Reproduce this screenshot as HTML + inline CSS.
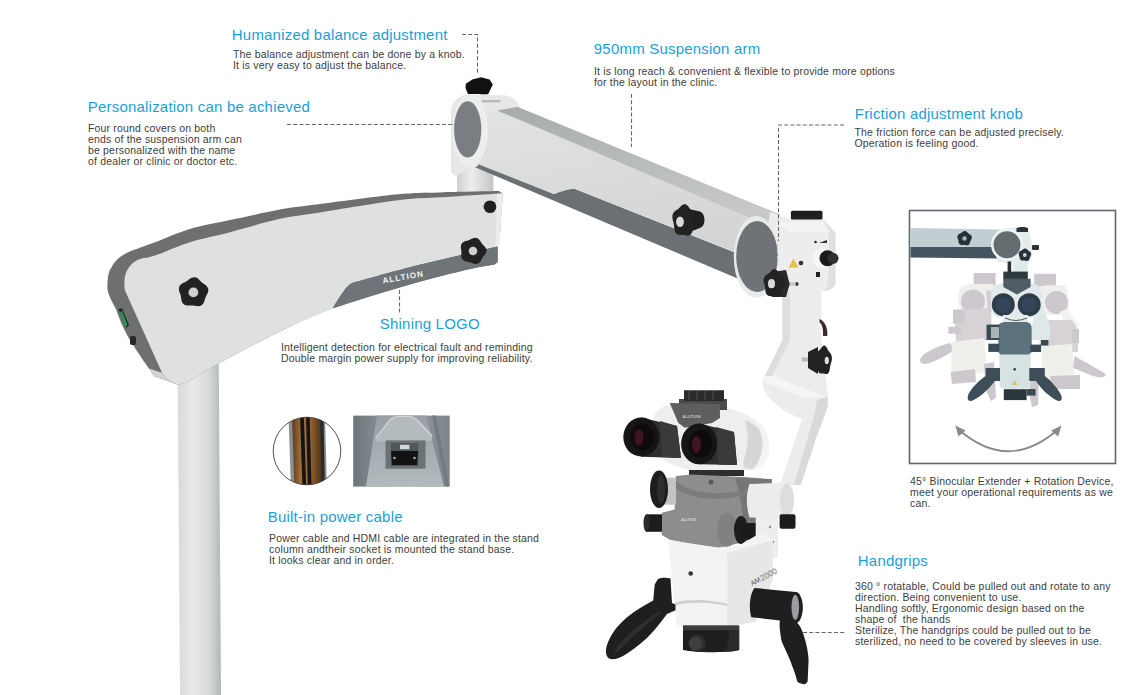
<!DOCTYPE html>
<html><head><meta charset="utf-8">
<style>
html,body{margin:0;padding:0;background:#fff;}
body{width:1131px;height:695px;position:relative;overflow:hidden;font-family:"Liberation Sans",sans-serif;}
.t{position:absolute;white-space:nowrap;font-size:15px;line-height:15px;color:#1a9fdb;letter-spacing:0.2px;margin-top:-0.7px;margin-left:-1.2px;}
.b{position:absolute;white-space:pre;font-size:10.5px;line-height:11px;color:#404040;letter-spacing:0.17px;}
svg{position:absolute;left:0;top:0;}
</style></head><body>
<svg width="1131" height="695" viewBox="0 0 1131 695">
<defs>
<linearGradient id="colG" x1="0" x2="1" y1="0" y2="0">
<stop offset="0" stop-color="#d8dad7"/><stop offset="0.35" stop-color="#e8eae7"/><stop offset="0.7" stop-color="#d9dcda"/><stop offset="1" stop-color="#b3b7b7"/>
</linearGradient>
<linearGradient id="postG" x1="0" x2="1" y1="0" y2="0">
<stop offset="0" stop-color="#cfd1d1"/><stop offset="0.4" stop-color="#eceeed"/><stop offset="1" stop-color="#c4c6c6"/>
</linearGradient>
</defs>
<!-- stand column -->
<path d="M177.5,350 L218.7,350 L221,695 L180,695 Z" fill="url(#colG)"/>
<!-- post between arms -->
<rect x="457" y="160" width="36.4" height="33" fill="url(#postG)"/>
<!-- lower arm outer gray -->
<path d="M107.5,290.0 C107.5,288.9 107.3,285.9 107.5,283.2 C107.7,280.5 107.8,276.7 108.6,273.8 C109.4,270.9 110.6,268.4 112.2,265.9 C113.8,263.4 115.6,260.8 118.0,258.7 C120.4,256.6 122.8,254.9 126.6,253.0 C130.4,251.1 136.3,249.0 141.0,247.2 C145.7,245.4 146.8,245.2 155.0,242.2 C163.2,239.2 177.5,232.7 190.0,229.0 C202.5,225.3 215.0,223.3 230.0,220.1 C245.0,216.9 265.0,212.3 280.0,209.6 C295.0,206.9 300.0,206.7 320.0,204.1 C340.0,201.5 380.0,196.0 400.0,194.1 C420.0,192.2 423.5,192.9 440.0,192.4 C456.5,191.9 489.0,191.3 498.8,191.1 L502.8,193.4 L499.9,235 L497.6,246.5 L497.6,262 L494.7,264.4 C490.6,265.2 484.1,265.7 470.0,269.0 C455.9,272.3 432.9,277.9 410.0,284.4 C387.1,290.9 354.6,300.4 332.9,308.2 C311.2,316.0 298.8,322.3 280.0,331.4 C261.2,340.5 235.0,354.5 220.0,362.7 C205.0,370.9 196.9,376.9 190.0,380.6 C183.1,384.3 180.3,384.2 178.4,384.9 L171.4,382.3 L154.2,376.3 L149,368.5 C140,356 135,348 130,340 C124,330 119,318 116,309 C112,302 109,296 107.5,290 Z" fill="#6d6f71"/>
<path d="M149,368.5 L162,372.8 L168.9,380.6 L178.4,384.9 L171.4,382.3 L154.2,376.3 Z" fill="#d2d4d3"/>
<!-- white face -->
<path d="M124.8,290.0 C124.7,288.9 124.4,285.5 124.4,283.2 C124.5,280.9 124.5,278.4 125.1,276.0 C125.7,273.6 126.5,271.1 128.0,268.8 C129.4,266.5 131.6,264.0 133.8,262.3 C136.0,260.6 137.5,259.8 141.0,258.7 C144.5,257.6 146.8,258.2 155.0,255.5 C163.2,252.8 177.5,246.1 190.0,242.2 C202.5,238.3 215.0,236.1 230.0,232.2 C245.0,228.3 265.0,222.1 280.0,218.8 C295.0,215.5 300.0,215.5 320.0,212.4 C340.0,209.3 380.0,202.6 400.0,200.1 C420.0,197.6 423.5,198.4 440.0,197.3 C456.5,196.2 489.0,194.1 498.8,193.4 L502.8,193.4 L499.9,235 L498.8,245.9 C473.3,252.4 431.9,261.7 410.0,267.2 C388.1,272.7 363.8,279.8 354.5,282.3 C349,283.5 345,288 332.9,308.2 C324.1,312.1 298.8,322.3 280.0,331.4 C261.2,340.5 235.0,354.5 220.0,362.7 C205.0,370.9 196.9,376.9 190.0,380.6 C183.1,384.3 180.3,384.2 178.4,384.9 L168.9,380.6 L162,372.8 Z" fill="#dfe1e0"/>
<!-- lower gray band -->
<path d="M497.6,246.5 C473.3,252.4 431.9,261.7 410.0,267.2 C388.1,272.7 363.8,279.8 354.5,282.3 C349,283.5 345,288 332.9,308.2 C345.8,304.2 387.1,290.9 410.0,284.4 C432.9,277.9 455.9,272.3 470.0,269.0 C484.1,265.7 490.6,265.2 494.7,264.4 L497.6,262 Z" fill="#6f7479"/>
<text x="0" y="0" font-family="Liberation Sans" font-weight="bold" font-size="8.2" fill="#f4f4f4" transform="translate(383,283.5) rotate(-10)" letter-spacing="1">ALLTION</text>
<path d="M497,194 L502.8,193.4 L499.9,235 L498.8,245.9 L495,246.5 L496,235 Z" fill="#eceeed"/>
<!-- side switch -->
<path d="M118.5,309 L122,308.5 L129,325 L126.5,328 Z" fill="#222"/><path d="M120,312 L122,311 L127.5,325 L125.5,326.5 Z" fill="#22a050"/>
<rect x="130" y="336" width="6" height="9" rx="2" fill="#2a2a2a"/>
<!-- upper beam -->
<defs>
<linearGradient id="topF" x1="0" y1="0" x2="0.15" y2="1"><stop offset="0" stop-color="#a4a7a8"/><stop offset="1" stop-color="#c8caca"/></linearGradient>
<linearGradient id="frF" x1="0" y1="0" x2="0.3" y2="1"><stop offset="0" stop-color="#e3e5e4"/><stop offset="1" stop-color="#d3d5d4"/></linearGradient>
</defs>
<path d="M475,160 L553.7,194.1 C562,191 567,189 574.5,188.7 L760,262.5 L760,288 L475,167.3 Z" fill="#6c7074"/>
<path d="M480,91.5 L780,214.5 L780,270 L574.5,188.7 C567,189 562,191 553.7,194.1 L475,163 Z" fill="url(#frF)"/>
<path d="M480,91.5 L780,214.5 L780,230.5 L500,111.7 L485,104 Z" fill="url(#topF)"/>
<!-- left joint housing -->
<path d="M466,94.5 L506.5,95.5 C512,96.5 517.3,100.8 520.1,106.5 L488,112 L478,166 L455,175.7 L451,172.7 L451,110 C452,102 458,96 466,94.5 Z" fill="#e6e7e6"/>
<rect x="481.7" y="100" width="18.7" height="2.4" fill="#b8baba"/>
<ellipse cx="470.2" cy="130.4" rx="17.7" ry="36.8" fill="#eceeed"/>
<ellipse cx="467.7" cy="129.4" rx="13.6" ry="28.2" fill="#7a7e82"/>
<!-- top knob -->
<path d="M465.9,83.7 L472.3,79.4 L481,77.2 L489.6,79.4 L492.8,84.4 L488.2,94 L468,94 L465.5,88 Z" fill="#111"/>
<!-- right joint housing -->
<path d="M770,212.2 C778,214 785,218.7 790.9,218.7 L823.2,218.7 L835.5,233.1 L835.5,283.5 C834,289 829,291 824,290.7 L786,293 L760,280 Z" fill="#ededed"/>
<path d="M823.2,218.7 L835.5,233.1 L835.5,283.5 C834,289 829,291 824,290.7 L827,286 C830,270 830,240 827,226 Z" fill="#dfe0e0"/>
<path d="M776,222 L823,222 L830,232 L790,232 Z" fill="#f3f3f3"/>
<rect x="790.9" y="210.8" width="31.6" height="8.6" rx="1.5" fill="#1e1e1e"/>
<ellipse cx="756.4" cy="257" rx="22.6" ry="41" fill="#e9ebea"/>
<ellipse cx="757" cy="256.5" rx="20.8" ry="35.5" fill="#6f7377"/>
<!-- side knob on right housing -->
<ellipse cx="822" cy="258.3" rx="9" ry="10" fill="#f6f6f6"/>
<circle cx="827.5" cy="258.3" r="8" fill="#1a1a1a"/>
<circle cx="833" cy="258.3" r="5.5" fill="#303030"/>
<circle cx="815.5" cy="242" r="1.3" fill="#222"/>
<path d="M819,243 L827,240 L827,243 Z" fill="#333"/>
<rect x="816" y="272" width="4" height="5" fill="#222"/>
<!-- warning -->
<path d="M788.5,267.5 L793.5,258.5 L798.5,267.5 Z" fill="#e6c04a"/>
<circle cx="801" cy="263" r="2.3" fill="#333"/>
<path d="M207.9,292.4 L207.5,293.4 L207.0,294.3 L206.6,295.2 L206.1,296.0 L205.7,296.9 L205.4,297.7 L205.1,298.6 L204.8,299.5 L204.5,300.5 L204.2,301.5 L203.8,302.5 L203.3,303.4 L202.7,304.3 L201.9,305.0 L201.0,305.6 L200.0,305.9 L199.0,306.1 L197.9,306.2 L196.8,306.1 L195.8,306.0 L194.8,305.8 L193.9,305.6 L192.9,305.5 L192.0,305.4 L191.1,305.4 L190.1,305.5 L189.1,305.5 L188.1,305.5 L187.0,305.4 L186.0,305.2 L185.0,304.9 L184.1,304.4 L183.2,303.7 L182.6,302.9 L182.0,301.9 L181.7,300.9 L181.4,299.9 L181.2,298.9 L181.1,297.9 L181.0,296.9 L180.8,296.0 L180.6,295.1 L180.3,294.2 L180.0,293.3 L179.6,292.4 L179.3,291.4 L179.0,290.4 L178.9,289.3 L178.9,288.3 L179.1,287.2 L179.5,286.2 L180.1,285.3 L180.8,284.5 L181.7,283.9 L182.6,283.3 L183.5,282.8 L184.4,282.4 L185.3,282.0 L186.1,281.5 L186.9,281.1 L187.6,280.5 L188.4,279.9 L189.1,279.3 L190.0,278.7 L190.9,278.1 L191.9,277.7 L192.9,277.4 L193.9,277.2 L195.0,277.3 L196.0,277.6 L197.0,278.0 L197.9,278.6 L198.7,279.3 L199.4,280.0 L200.1,280.7 L200.8,281.4 L201.5,282.1 L202.2,282.7 L202.9,283.2 L203.7,283.8 L204.5,284.3 L205.4,284.9 L206.2,285.6 L206.9,286.4 L207.5,287.3 L208.0,288.2 L208.3,289.2 L208.3,290.3 L208.2,291.4Z" fill="#222"/><ellipse cx="193.4" cy="292.4" rx="4.9" ry="4.9" fill="#cfd1d0"/><path d="M486.5,251.0 L486.3,251.9 L486.0,252.8 L485.6,253.7 L485.0,254.5 L484.5,255.2 L483.9,255.8 L483.4,256.5 L482.9,257.2 L482.4,257.8 L482.0,258.6 L481.6,259.3 L481.2,260.1 L480.8,260.9 L480.2,261.7 L479.6,262.4 L478.9,263.0 L478.1,263.5 L477.2,263.8 L476.2,264.0 L475.3,263.9 L474.3,263.8 L473.4,263.5 L472.6,263.2 L471.8,262.9 L471.0,262.5 L470.2,262.3 L469.4,262.1 L468.6,261.9 L467.7,261.8 L466.9,261.6 L466.0,261.4 L465.0,261.2 L464.2,260.8 L463.4,260.3 L462.7,259.7 L462.1,258.9 L461.7,258.1 L461.4,257.2 L461.3,256.2 L461.2,255.3 L461.3,254.4 L461.3,253.5 L461.4,252.6 L461.4,251.8 L461.4,251.0 L461.3,250.2 L461.1,249.3 L461.0,248.4 L460.9,247.5 L460.9,246.6 L460.9,245.6 L461.2,244.7 L461.6,243.9 L462.1,243.1 L462.8,242.4 L463.6,241.9 L464.4,241.5 L465.3,241.1 L466.2,240.9 L467.0,240.7 L467.9,240.5 L468.6,240.2 L469.4,239.9 L470.2,239.6 L470.9,239.2 L471.7,238.8 L472.6,238.4 L473.5,238.1 L474.4,237.9 L475.3,237.8 L476.3,237.9 L477.2,238.2 L478.0,238.6 L478.8,239.2 L479.4,239.9 L480.0,240.6 L480.5,241.4 L481.0,242.1 L481.4,242.9 L481.9,243.5 L482.4,244.2 L483.0,244.8 L483.6,245.4 L484.2,246.0 L484.8,246.7 L485.4,247.4 L485.9,248.3 L486.3,249.1 L486.5,250.1Z" fill="#222"/><ellipse cx="473.0" cy="251.0" rx="4.3" ry="4.3" fill="#cfd1d0"/><rect x="482" y="205" width="5" height="3.5" fill="#c8c8c8"/><circle cx="490" cy="206.7" r="6.3" fill="#1f1f1f"/><path d="M684,208 L700,211.5 C706,214 706,226 700,228 L684,234 Z" fill="#1f1f1f"/><path d="M695.7,220.7 L695.3,221.8 L695.0,222.8 L694.6,223.7 L694.2,224.7 L693.9,225.6 L693.6,226.5 L693.4,227.4 L693.2,228.4 L693.0,229.5 L692.7,230.6 L692.4,231.6 L692.0,232.7 L691.4,233.6 L690.8,234.4 L690.1,235.0 L689.3,235.4 L688.5,235.6 L687.6,235.7 L686.7,235.6 L685.9,235.4 L685.1,235.2 L684.4,235.0 L683.6,234.9 L682.9,234.8 L682.2,234.8 L681.4,234.9 L680.6,234.9 L679.7,234.9 L678.9,234.8 L678.0,234.6 L677.2,234.2 L676.5,233.7 L675.8,232.9 L675.3,232.1 L674.9,231.0 L674.6,230.0 L674.4,228.8 L674.2,227.7 L674.1,226.6 L674.0,225.6 L673.9,224.6 L673.7,223.7 L673.5,222.7 L673.2,221.7 L672.9,220.7 L672.7,219.6 L672.5,218.5 L672.4,217.4 L672.4,216.2 L672.5,215.1 L672.9,214.0 L673.3,213.0 L673.9,212.2 L674.6,211.4 L675.3,210.8 L676.0,210.3 L676.8,209.8 L677.5,209.4 L678.1,208.9 L678.7,208.4 L679.3,207.8 L680.0,207.2 L680.6,206.5 L681.3,205.8 L682.0,205.2 L682.8,204.7 L683.6,204.4 L684.4,204.2 L685.3,204.3 L686.1,204.6 L686.9,205.1 L687.6,205.7 L688.3,206.5 L688.9,207.3 L689.4,208.0 L689.9,208.8 L690.5,209.5 L691.0,210.1 L691.6,210.7 L692.3,211.3 L693.0,211.9 L693.6,212.6 L694.3,213.3 L694.9,214.2 L695.4,215.1 L695.7,216.2 L695.9,217.3 L696.0,218.4 L695.9,219.6Z" fill="#222"/><ellipse cx="680.0" cy="221.7" rx="3.9" ry="5.3" fill="#d8dad9"/><!-- vertical column + elbow -->
<path d="M782.4,290 L821.2,290 L821.2,345 C823,360 826,380 827.9,395 L827.9,405.4 C824,418 820,428 817.5,433.9 L800.7,485 L780,485 L802,419.6 C795,416 789,413 783.9,410.5 C778,406 772,401 767,395 L764,390 C762,384 762,380 764.2,377.6 L782.4,340 Z" fill="#ebecec"/>
<path d="M782.4,293 L790,293 L790,340 L771,378 L764.2,377.6 L782.4,340 Z" fill="#dcdede"/>
<path d="M764.2,377.6 C766,375.5 769,375.5 772,376.3 L827.9,397 L806,398 L763,382 Z" fill="#f4f5f5"/>
<path d="M827.9,397 L827.9,405.4 C824,418 820,428 817.5,433.9 L800.7,485 L794,485 L810,430 C813,420 816,410 817,400 Z" fill="#d8dada"/>
<path d="M819.5,319 C825,321 828,328 827.3,336 L823,336 C823.5,329 822,324 819.5,322 Z" fill="#3a2c2a"/>
<!-- knob on column -->
<rect x="801.8" y="357.5" width="8" height="4" fill="#b8b8b8"/>
<path d="M808,352 L818,347 L818,374 L808,368 Z" fill="#222"/>
<!-- head white body -->
<path d="M653,420 C656,410 662,406 670,405 L722,407 C735,409 745,414 752,418 C764,424 770,436 769,450 C768,462 762,469 752,470 L690,470 C670,466 658,458 653,450 Z" fill="#eeeeee"/>
<path d="M745,420 C758,425 768,436 768,450 C767,461 761,468 751,469 L741,467 C748,452 750,436 745,420Z" fill="#d5d6d6"/>
<path d="M752,418 C764,424 770,436 769,450 C768,462 762,469 752,470 C760,462 764,450 762,438 C760,428 756,422 752,418Z" fill="#f4f4f4"/>
<!-- turret -->
<path d="M679,399 L727,399 L727,410 L679,410 Z" fill="#4a4b4c"/>
<path d="M684,390.3 L724,390.3 L724,401 L684,401 Z" fill="#2a2a2a"/>
<path d="M688,391 L690,391 L690,400 L688,400 Z M696,391 L698,391 L698,400 L696,400 Z M704,391 L706,391 L706,400 L704,400 Z M712,391 L714,391 L714,400 L712,400 Z" fill="#3e3e3e"/>
<path d="M669.7,403 L719.8,404 L720,418 L712,423 L684.8,427.7 L678.4,423 Z" fill="#5c5e60"/>
<text x="682.5" y="417.5" font-family="Liberation Sans" font-size="3.8" font-weight="bold" fill="#d0d0d0" letter-spacing="0.3">ALLTION</text>
<!-- base ring under head -->
<rect x="689.6" y="462" width="54" height="9" fill="#f0f0f0"/>
<rect x="689" y="470" width="55" height="6" fill="#2e2e2e"/>
<!-- left eyepiece -->
<path d="M641,417.6 L677,426 L681,458 L641,456.7 Z" fill="#2f2f2f"/>
<path d="M660,421 L677,426 L681,458 L662,457 Z" fill="#3a3a3a"/>
<ellipse cx="641.3" cy="437.1" rx="18" ry="19.5" fill="#161616"/>
<ellipse cx="642.5" cy="437" rx="12" ry="13.5" fill="#0e0a0d"/>
<ellipse cx="639" cy="437.5" rx="4.5" ry="8" fill="#4a1626" opacity="0.85"/>
<!-- right eyepiece -->
<path d="M699,423.6 L734,432 L737,465 L699,464.2 Z" fill="#2f2f2f"/>
<path d="M716,427 L734,432 L737,465 L718,464.5 Z" fill="#3a3a3a"/>
<ellipse cx="699.1" cy="443.9" rx="18" ry="20.3" fill="#161616"/>
<ellipse cx="700.3" cy="443.8" rx="12" ry="14" fill="#0e0a0d"/>
<ellipse cx="696.5" cy="444.5" rx="4.5" ry="8.5" fill="#4a1626" opacity="0.85"/>
<!-- gray body -->
<path d="M676.2,476.1 L690.5,474.5 L744.6,476.9 L771.7,479.3 L771.7,487.3 L762,492 L760,530 L746.2,541.4 L733.5,544.6 L719.1,547.8 L693.7,544.6 L669.8,539.8 L661.8,535 L661.8,512.7 L674.6,509.6 L675.4,477.7 Z" fill="#8b8d8f"/>
<path d="M735,478 L771.7,479.3 L771.7,487.3 L762,492 L760,530 L746.2,541.4 L740,542 C745,520 742,500 735,478 Z" fill="#747678"/>
<path d="M676,481 C690,494 725,498 760,486 L760,491 C725,503 690,500 676,488 Z" fill="#7a7c7e"/>
<circle cx="711" cy="482" r="2.5" fill="#5a5a5a"/>
<text x="681" y="521" font-family="Liberation Sans" font-size="3.6" font-weight="bold" fill="#d8d8d8">ALLTION</text>
<!-- knobs on gray body -->
<rect x="660" y="477.7" width="16" height="27" fill="#c4c4c4"/>
<ellipse cx="659" cy="489.3" rx="9" ry="18.7" fill="#1d1d1d"/>
<ellipse cx="661" cy="489.3" rx="4" ry="14" fill="#2e2e2e"/>
<path d="M646,514.3 L662,514.3 L662,531.8 L646,531.8 Z" fill="#1d1d1d"/>
<ellipse cx="646.5" cy="523" rx="3" ry="8.7" fill="#2b2b2b"/>
<ellipse cx="727" cy="530" rx="10" ry="17" fill="#7f8183"/>
<ellipse cx="741" cy="530" rx="7" ry="14" fill="#1d1d1d"/>
<path d="M741.4,523 L758,523 C763,524 763,539 758,539.8 L741.4,539.8 Z" fill="#1b1b1b"/>
<!-- white side panel -->
<path d="M755.7,514 L778,512.7 L778,557.3 L764,560 L755.7,552 Z" fill="#eeeeee"/>
<circle cx="770" cy="527" r="1.2" fill="#888"/><circle cx="766" cy="542" r="1.2" fill="#888"/><circle cx="773" cy="542" r="1.2" fill="#888"/>
<!-- white horizontal cylinder -->
<path d="M749.4,484 L787,482.5 C795,484 795,516 787,517.5 L749.4,517.5 C746,505 746,495 749.4,484 Z" fill="#ebecec"/>
<ellipse cx="787" cy="500" rx="7" ry="16.5" fill="#dcdddd"/>
<rect x="779.6" y="514.3" width="15.9" height="14.4" rx="2" fill="#1c1c1c"/>
<!-- white lower body -->
<path d="M668,540 L719,547.8 L740,545 L762,532 L773,540 L772.7,580 L755.4,622 L727.4,626.4 L676.6,626.4 L674.5,602.6 Z" fill="#f3f3f3"/>
<path d="M727.4,553 L772.7,540 L772.7,580 L755.4,622 L727.4,626.4 Z" fill="#e7e7e7"/>
<text x="0" y="0" font-family="Liberation Sans" font-size="7" fill="#555" transform="translate(752,586) rotate(-28)">AM</text><text x="0" y="0" font-family="Liberation Sans" font-size="8" fill="none" stroke="#999" stroke-width="0.5" transform="translate(762,581) rotate(-28)">2000</text>
<path d="M674.5,602.6 C690,598 715,600 727.4,604 L727.4,606 C715,603 690,601 676,605 Z" fill="#cfcfcf"/>
<circle cx="690.7" cy="573.5" r="2.3" fill="#333"/>
<!-- objective -->
<path d="M683,626 L739.2,626 L739.2,650 C725,653 697,653 683,650 Z" fill="#1e1e1e"/>
<rect x="683" y="625.3" width="56.2" height="5" fill="#3c3c3c"/>
<path d="M739.2,630 L739.2,650 C735,651 730,652 726,652 L730,630 Z" fill="#2b2b2b"/>
<circle cx="697" cy="643" r="8.6" fill="#2f2f2f"/>
<circle cx="695.5" cy="643.5" r="6.5" fill="#3e3e3e"/>
<!-- left handgrip -->
<path d="M657.6,579.4 C661,577.5 667,577.5 670.5,578.6 L672,603 L675.5,604.5 L675.5,610.3 L667,614 C661,622 655,630 647,638 C637,647 626,655 618.7,658 C613,660 608.5,659.5 607,656.3 C605,652 606,646 609,640 C613,631 620,623 628,616.5 C636,610 644,605.5 653.2,600.5 L654.7,584.4 Z" fill="#1f1f1f"/>
<path d="M614,651 C625,636 640,623 660,611 L661,612.5 C645,626 630,639 616,653 Z" fill="#2e2e2e"/>
<!-- right handgrip -->
<path d="M754.5,587.9 L795.7,591.9 C800,592 803,600 802.8,607.3 C803,615 800,622 797,622.8 C800,625 803,632 805.2,640.2 C808,650 809,660 808.4,664 C808,672 808,678 807.6,681.4 C806,684.5 803,684.5 802,683.8 C799,683 798,682 797.3,681.4 C795,672 792,666 791,662.4 C786,650 782,643 781.4,640.2 C780,632 779,625 779.9,620.4 L751.3,617.2 C749,610 749,595 754.5,587.9 Z" fill="#1f1f1f"/>
<ellipse cx="795.3" cy="607.3" rx="3.8" ry="12.5" fill="#9a9ea0"/>
<rect x="782" y="282.3" width="15" height="3.6" fill="#c8c8c8"/><ellipse cx="797" cy="284" rx="1.5" ry="2" fill="#333"/><path d="M772,272 L786,270 L789.7,284 L786,297 L772,297 Z" fill="#2a2a2a"/><path d="M784.4,283.7 L784.1,284.6 L783.8,285.5 L783.4,286.4 L783.1,287.2 L782.8,288.0 L782.6,288.8 L782.4,289.6 L782.2,290.5 L782.0,291.4 L781.7,292.4 L781.5,293.3 L781.1,294.2 L780.6,295.0 L780.1,295.7 L779.4,296.2 L778.7,296.6 L778.0,296.8 L777.2,296.9 L776.4,296.8 L775.7,296.6 L775.0,296.5 L774.3,296.3 L773.7,296.2 L773.0,296.1 L772.4,296.1 L771.7,296.2 L771.0,296.2 L770.2,296.2 L769.5,296.1 L768.7,295.9 L768.0,295.6 L767.3,295.1 L766.7,294.5 L766.2,293.7 L765.9,292.8 L765.6,291.8 L765.4,290.9 L765.3,289.9 L765.2,288.9 L765.1,288.0 L765.0,287.1 L764.8,286.3 L764.6,285.5 L764.4,284.6 L764.1,283.7 L763.9,282.8 L763.7,281.8 L763.6,280.8 L763.6,279.7 L763.8,278.7 L764.1,277.8 L764.5,277.0 L765.0,276.2 L765.6,275.6 L766.2,275.0 L766.9,274.6 L767.6,274.2 L768.2,273.8 L768.8,273.3 L769.3,272.9 L769.9,272.4 L770.4,271.8 L771.0,271.2 L771.6,270.6 L772.2,270.1 L772.9,269.6 L773.6,269.3 L774.4,269.2 L775.1,269.3 L775.9,269.6 L776.6,270.0 L777.2,270.5 L777.8,271.2 L778.3,271.9 L778.8,272.6 L779.3,273.2 L779.8,273.9 L780.3,274.4 L780.8,274.9 L781.4,275.5 L782.0,276.0 L782.6,276.6 L783.2,277.2 L783.7,278.0 L784.1,278.8 L784.4,279.7 L784.6,280.7 L784.7,281.7 L784.6,282.7Z" fill="#222"/><ellipse cx="771.5" cy="283.7" rx="3.5" ry="4.6" fill="#d8dad9"/><path d="M831.7,360.5 L831.5,361.5 L831.2,362.4 L830.9,363.3 L830.7,364.1 L830.5,364.9 L830.3,365.8 L830.1,366.6 L830.0,367.5 L829.8,368.5 L829.7,369.5 L829.5,370.4 L829.2,371.4 L828.8,372.2 L828.4,372.9 L827.9,373.5 L827.4,373.9 L826.8,374.1 L826.2,374.1 L825.7,374.0 L825.1,373.9 L824.6,373.7 L824.1,373.5 L823.6,373.4 L823.1,373.4 L822.6,373.3 L822.0,373.4 L821.5,373.4 L820.9,373.4 L820.4,373.4 L819.8,373.2 L819.2,372.8 L818.7,372.3 L818.3,371.6 L817.9,370.8 L817.6,369.9 L817.4,368.9 L817.3,367.9 L817.2,366.9 L817.1,365.9 L817.1,365.0 L817.0,364.1 L816.8,363.2 L816.7,362.3 L816.5,361.4 L816.3,360.5 L816.1,359.5 L816.0,358.5 L815.9,357.5 L815.9,356.4 L816.1,355.4 L816.3,354.4 L816.6,353.5 L817.0,352.7 L817.4,352.1 L817.9,351.5 L818.4,351.1 L818.9,350.6 L819.4,350.2 L819.8,349.8 L820.2,349.3 L820.7,348.8 L821.1,348.2 L821.5,347.6 L821.9,347.0 L822.4,346.4 L823.0,346.0 L823.5,345.7 L824.1,345.5 L824.7,345.6 L825.2,345.9 L825.7,346.3 L826.2,346.9 L826.7,347.6 L827.1,348.3 L827.5,349.0 L827.8,349.7 L828.2,350.3 L828.6,350.9 L829.0,351.4 L829.4,352.0 L829.8,352.5 L830.3,353.1 L830.7,353.8 L831.1,354.6 L831.5,355.4 L831.7,356.4 L831.9,357.4 L831.9,358.4 L831.8,359.5Z" fill="#222"/><ellipse cx="826.8" cy="360.5" rx="2.1" ry="3.8" fill="#e0e0e0"/><g stroke="#666" stroke-width="1.1" stroke-dasharray="4,2.2" fill="none">
<path d="M462,34.5 L477.5,34.5 L477.5,73"/>
<path d="M287,124.5 L455,124.5"/>
<path d="M631.5,94 L631.5,147"/>
<path d="M844,125 L778.5,125 L778.5,241"/>
<path d="M399.5,290 L399.5,313"/>
<path d="M803,632.5 L845,632.5"/>
</g><path d="M777.5,244 L777.5,268" stroke="#c8cacc" stroke-width="1" stroke-dasharray="3,3" fill="none"/><!-- inset box -->
<rect x="909.5" y="210.5" width="206" height="253" fill="#fff" stroke="#5d686d" stroke-width="1.6"/>
<!-- inset arm -->
<path d="M910.5,228 L1000,229.5 L1000,247 L910.5,247 Z" fill="#c2cfd2"/>
<path d="M910.5,247 L1000,247 L1000,258.5 L910.5,257.5 Z" fill="#46555f"/>
<!-- ghost left -->
<g>
<path d="M920.8,358 C924,352 938,346 950,343 L955,350 C944,357 932,363 925,364 C921,364 919,361 920.8,358 Z" fill="#cdc8cd"/>
<path d="M973.7,273 L995.6,273 L995.6,286 L973.7,286 Z" fill="#cdc8cd"/>
<path d="M958.7,292 C960,286 968,284 975,284 L993.3,284 L996,300 L993.3,314 L962,314 C959,308 958,298 958.7,292 Z" fill="#efefec"/>
<circle cx="973" cy="301.5" r="12" fill="#cdc8cd"/>
<path d="M986,290 L996,292 L996,312 L988,312 Z" fill="#d3ced3"/>
<path d="M954,310 L991,308 L992,340 L956,343 Z" fill="#d6d2d6"/>
<path d="M953,309.5 L964.5,309.5 L964.5,323.3 L953,323.3 Z" fill="#cdc8cd"/>
<path d="M948.4,326.8 L961,326.8 L961,333.7 L948.4,333.7 Z" fill="#cdc8cd"/>
<path d="M952,342 L984,338 L987,372 L951,377 Z" fill="#efefec"/>
<path d="M950.7,372 L975,369 L976,382 L952,384 Z" fill="#cdc8cd"/>
<path d="M984,364 L994,362 L996,398 L991,401 L986,390 Z" fill="#cdc8cd"/>
</g>
<!-- ghost right -->
<g>
<path d="M1034.2,273.8 L1056,273.8 L1056,287.6 L1034.2,287.6 Z" fill="#cdc8cd"/>
<path d="M1034.2,290 C1036,286 1045,285.3 1052,285.3 L1064,285.3 C1068,288 1069,300 1068.7,315 L1036,315 Z" fill="#efefec"/>
<circle cx="1056.5" cy="302.4" r="11.5" fill="#cdc8cd"/>
<path d="M1059.5,312 L1066,309.5 L1079,324 L1076,329 L1068,329 Z" fill="#f2f2f0"/>
<path d="M1038.8,320 L1072,320 L1078,330 L1078,352 L1040,352 Z" fill="#d6d2d6"/>
<path d="M1072,329 L1079,329 L1079,343 L1072,343 Z" fill="#cdc8cd"/>
<path d="M1041,346 L1072,344 L1074.5,380 L1043,382 Z" fill="#efefec"/>
<path d="M1074.5,356 C1085,362 1098,369 1105.6,374 C1106,378 1101,378 1093,376 L1073,368 Z" fill="#cdc8cd"/>
<path d="M1050,376 L1080,375 L1080,389 L1051,389 Z" fill="#cdc8cd"/>
<path d="M1029.6,380 L1038.8,380 L1038,405 L1032,407.3 L1029.6,395 Z" fill="#cdc8cd"/>
</g>
<!-- inset main scope -->
<path d="M994.7,236 C996,229 1005,227.8 1015,227.8 L1028,229 C1031,235 1031.6,250 1030,262 L998,262 C995,255 994,245 994.7,236 Z" fill="#e4ecec"/>
<path d="M1000,232 C1010,226 1022,226 1028,232 C1033,240 1033,255 1030,262.5 L1000,262.5 Z" fill="#e4ecec"/>
<circle cx="1007" cy="244.7" r="16" fill="#eef3f3"/>
<circle cx="1007" cy="244.7" r="13.5" fill="#656d71"/>
<path d="M1016.5,228 C1019,226.5 1026,226.5 1028,228 L1028,232 L1016.5,232 Z" fill="#2c3338"/>
<rect x="1032" y="245" width="7" height="5" rx="1" fill="#2c3338"/>
<path d="M971.7,238.5 L971.5,239.0 L971.2,239.4 L971.0,239.9 L970.8,240.3 L970.6,240.7 L970.4,241.1 L970.3,241.6 L970.1,242.0 L970.0,242.5 L969.8,243.0 L969.6,243.5 L969.4,243.9 L969.1,244.4 L968.7,244.7 L968.2,245.0 L967.8,245.2 L967.2,245.3 L966.7,245.3 L966.2,245.3 L965.7,245.2 L965.2,245.1 L964.7,245.0 L964.3,245.0 L963.8,244.9 L963.4,244.9 L962.9,244.9 L962.4,245.0 L961.9,245.0 L961.4,244.9 L960.8,244.8 L960.3,244.7 L959.9,244.4 L959.5,244.1 L959.2,243.7 L958.9,243.2 L958.7,242.7 L958.6,242.2 L958.5,241.7 L958.4,241.2 L958.4,240.7 L958.3,240.3 L958.2,239.8 L958.0,239.4 L957.9,239.0 L957.7,238.5 L957.5,238.0 L957.4,237.5 L957.3,237.0 L957.4,236.5 L957.5,235.9 L957.7,235.5 L957.9,235.0 L958.3,234.6 L958.7,234.3 L959.2,234.0 L959.6,233.8 L960.1,233.6 L960.5,233.4 L960.9,233.1 L961.3,232.9 L961.6,232.6 L962.0,232.3 L962.4,232.0 L962.8,231.7 L963.3,231.5 L963.7,231.2 L964.2,231.1 L964.8,231.0 L965.3,231.0 L965.8,231.2 L966.3,231.4 L966.7,231.7 L967.1,232.0 L967.5,232.4 L967.8,232.7 L968.1,233.1 L968.5,233.4 L968.8,233.7 L969.2,234.0 L969.6,234.2 L970.0,234.5 L970.4,234.8 L970.8,235.1 L971.2,235.5 L971.5,236.0 L971.7,236.4 L971.8,236.9 L971.9,237.5 L971.8,238.0Z" fill="#26323a"/><ellipse cx="964.5" cy="238.5" rx="2.2" ry="2.2" fill="#a9b8bc"/><path d="M1031.0,255.0 L1030.8,255.4 L1030.6,255.8 L1030.4,256.2 L1030.2,256.6 L1030.1,256.9 L1029.9,257.3 L1029.8,257.7 L1029.7,258.0 L1029.6,258.5 L1029.4,258.9 L1029.3,259.3 L1029.0,259.7 L1028.8,260.1 L1028.4,260.4 L1028.0,260.6 L1027.6,260.8 L1027.2,260.9 L1026.7,260.9 L1026.3,260.9 L1025.8,260.8 L1025.4,260.7 L1025.0,260.7 L1024.6,260.6 L1024.2,260.6 L1023.8,260.6 L1023.4,260.6 L1023.0,260.6 L1022.5,260.6 L1022.1,260.6 L1021.6,260.5 L1021.2,260.3 L1020.8,260.1 L1020.5,259.8 L1020.2,259.5 L1019.9,259.1 L1019.8,258.6 L1019.7,258.2 L1019.6,257.8 L1019.5,257.3 L1019.5,256.9 L1019.4,256.5 L1019.3,256.2 L1019.2,255.8 L1019.1,255.4 L1018.9,255.0 L1018.8,254.6 L1018.7,254.1 L1018.6,253.7 L1018.6,253.2 L1018.7,252.8 L1018.9,252.4 L1019.1,252.0 L1019.4,251.6 L1019.8,251.4 L1020.2,251.1 L1020.6,250.9 L1020.9,250.7 L1021.3,250.5 L1021.7,250.4 L1022.0,250.2 L1022.3,249.9 L1022.6,249.7 L1023.0,249.4 L1023.3,249.1 L1023.7,248.9 L1024.1,248.7 L1024.6,248.6 L1025.0,248.5 L1025.5,248.5 L1025.9,248.7 L1026.3,248.8 L1026.7,249.1 L1027.1,249.4 L1027.4,249.7 L1027.7,250.0 L1028.0,250.3 L1028.2,250.6 L1028.5,250.8 L1028.9,251.1 L1029.2,251.3 L1029.6,251.5 L1029.9,251.8 L1030.3,252.1 L1030.6,252.4 L1030.8,252.8 L1031.0,253.2 L1031.2,253.6 L1031.2,254.1 L1031.1,254.6Z" fill="#26323a"/><ellipse cx="1024.8" cy="255.0" rx="1.9" ry="1.9" fill="#c8d0d2"/>
<rect x="1013" y="261.5" width="14.8" height="11" fill="#dfeaea"/>
<rect x="1007.6" y="261.5" width="3.6" height="12" fill="#2b3034"/>
<path d="M1035,312 L1042,306 L1050,324 L1049,336 L1040,336 L1032,326 Z" fill="#dde8e8"/>
<path d="M990.8,294 C992,287 998,283 1004,283 L1028,283 C1036,283 1042,287 1042.5,295 L1042.5,312 C1040,316 1036,317.5 1030,317.5 L1000,317.5 C994,317 991,313 990.8,308 Z" fill="#e0eaea"/>
<rect x="1003.3" y="271.6" width="24.5" height="8" fill="#2f3a40"/>
<path d="M1003.3,278.8 L1030.6,278.8 L1030.6,287 L1017,294.6 L1003.3,287 Z" fill="#4f5d66"/>
<circle cx="1003.3" cy="304.7" r="11.5" fill="#2e3d48"/>
<circle cx="1029.2" cy="304.7" r="11.5" fill="#2e3d48"/>
<circle cx="1003.3" cy="304.7" r="7.5" fill="#34475a"/>
<circle cx="1029.2" cy="304.7" r="7.5" fill="#34475a"/>
<rect x="1003" y="315" width="25" height="10" fill="#e4ecec"/>
<path d="M1005,318 Q1016,323 1027,318" stroke="#2a2f33" stroke-width="0.8" fill="none"/>
<path d="M998.3,326 C999,323 1002,322 1006,322 L1025,322 C1029,322 1031.7,324 1031.7,328 L1031.7,352 C1028,357 1020,357 1015,356 C1008,357 1001,357 998.3,352 Z" fill="#5c727c"/>
<rect x="986.5" y="324.6" width="12.8" height="15.4" fill="#3b4b55"/>
<rect x="991" y="327" width="8" height="11" fill="#aab4b8"/>
<rect x="988.3" y="343.7" width="11" height="8.2" fill="#3b4b55"/>
<rect x="1030.2" y="344.6" width="10.8" height="7.4" fill="#3b4b55"/>
<path d="M1032,325.5 L1048,325.5 C1051,328 1051,338 1048,340 L1032,340 Z" fill="#dde8e8"/>
<rect x="1041" y="340" width="7.4" height="5.5" fill="#3b4b55"/>
<path d="M999.4,354.6 L1030.7,354.6 L1030.7,384 C1030,387 1028,388.7 1025,388.7 L1004,388.7 C1001,388.7 999.4,387 999.4,384 Z" fill="#d6e3e2"/>
<circle cx="1014.7" cy="369.2" r="1.2" fill="#2a3035"/>
<path d="M1012,385 L1014.7,380 L1017.4,385 Z" fill="#d9c24a"/>
<path d="M1003.8,389.2 L1026.6,389.2 L1026.6,400.1 L1003.8,400.1 Z" fill="#2c373d"/>
<rect x="1026.6" y="389" width="9" height="6.6" fill="#3b4b55"/>
<path d="M985.6,368 L1000,368 L1000,381 L995,381 C988,390 978,399 971,401 C967,401.5 967,397 969,393 C974,385 980,380 985.6,376 Z" fill="#3d4e58"/>
<path d="M1029.3,368 L1044.8,368 L1044.8,376 C1051,381 1058,388 1061.5,396 C1062.5,401 1060,402 1056,400 C1049,396 1042,390 1036,381 L1029.3,381 Z" fill="#3d4e58"/>
<!-- arrow -->
<path d="M957.5,428.5 Q1008.4,474 1059,428.5" fill="none" stroke="#8a8a8a" stroke-width="1.8"/>
<path d="M955.3,425.5 L965.5,430.5 L958.5,436.5 Z" fill="#8a8a8a"/>
<path d="M1061.4,425.5 L1051.2,430.5 L1058.2,436.5 Z" fill="#8a8a8a"/>
<defs>
<clipPath id="cc"><circle cx="307" cy="451" r="33.8"/></clipPath>
<linearGradient id="brG" x1="0" x2="1"><stop offset="0" stop-color="#5a3b1a"/><stop offset="0.3" stop-color="#a8733a"/><stop offset="0.6" stop-color="#8f6030"/><stop offset="1" stop-color="#3e2812"/></linearGradient>
<linearGradient id="skG" x1="0" x2="1" y1="0" y2="0"><stop offset="0" stop-color="#6d767b"/><stop offset="0.5" stop-color="#9aa2a6"/><stop offset="1" stop-color="#7c8489"/></linearGradient>
<linearGradient id="skC" x1="0" x2="0" y1="0" y2="1"><stop offset="0" stop-color="#98a0a4"/><stop offset="1" stop-color="#b3babd"/></linearGradient>
</defs>
<g clip-path="url(#cc)">
<rect x="270" y="415" width="75" height="75" fill="#fff"/>
<path d="M288.5,415 L325,415 L327,490 L291,490 Z" fill="#8b8f93"/>
<path d="M292,415 L322,415 L324,490 L294.5,490 Z" fill="url(#brG)"/>
<path d="M300,415 L303.8,415 L306.3,490 L302.5,490 Z" fill="#151515"/>
<path d="M306,415 L309.6,415 L311.6,490 L308,490 Z" fill="#151515"/>
<path d="M320,415 L323.5,415 L325,490 L322,490 Z" fill="#2a2a2a"/>
</g>
<circle cx="307" cy="451" r="33.8" fill="none" stroke="#4a3a32" stroke-width="0.9"/>
<rect x="353.2" y="415.6" width="96.5" height="71" fill="url(#skG)"/>
<path d="M377,415.6 L426,415.6 L444,486.6 L366,486.6 Z" fill="url(#skC)"/>
<path d="M375,439 L389,420 C392,416 396,415.6 400,415.6 L408,415.6 C412,415.6 415,417 418,420 L433,437 L430,441 L378,442 Z" fill="#b4bbbe"/>
<path d="M376,438 L389,421 C392,417 396,416.5 400,416.5 L408,416.5 C412,416.5 415,418 418,421 L432,436" fill="none" stroke="#d3d8da" stroke-width="1.2"/>
<path d="M432,415.6 L436,415.6 L449,486.6 L446,486.6 Z" fill="#737b80"/>
<rect x="385.5" y="440.4" width="40" height="28.3" fill="#6a7276"/>
<rect x="390.9" y="443" width="27.4" height="23" fill="#505759"/>
<path d="M391,451 L418,451 L417,465 L392,465 Z" fill="#121212"/>
<rect x="400" y="444.8" width="9.4" height="4.4" fill="#d5d9db"/>
<circle cx="394.5" cy="458" r="1.3" fill="#aaa"/><circle cx="414.5" cy="458" r="1.3" fill="#aaa"/>

</svg>
<div class="t" style="left:233px;top:28px">Humanized balance adjustment</div>
<div class="b" style="left:233px;top:49px">The balance adjustment can be done by a knob.
It is very easy to adjust the balance.</div>
<div class="t" style="left:89px;top:99.5px">Personalization can be achieved</div>
<div class="b" style="left:88px;top:123px">Four round covers on both
ends of the suspension arm can
be personalized with the name
of dealer or clinic or doctor etc.</div>
<div class="t" style="left:595px;top:42px">950mm Suspension arm</div>
<div class="b" style="left:594px;top:65.6px">It is long reach &amp; convenient &amp; flexible to provide more options
for the layout in the clinic.</div>
<div class="t" style="left:856px;top:106.5px">Friction adjustment knob</div>
<div class="b" style="left:854.5px;top:127px">The friction force can be adjusted precisely.
Operation is feeling good.</div>
<div class="t" style="left:381px;top:317px">Shining LOGO</div>
<div class="b" style="left:281px;top:342px">Intelligent detection for electrical fault and reminding
Double margin power supply for improving reliability.</div>
<div class="t" style="left:269px;top:510px">Built-in power cable</div>
<div class="b" style="left:269px;top:532.5px">Power cable and HDMI cable are integrated in the stand
column andtheir socket is mounted the stand base.
It looks clear and in order.</div>
<div class="b" style="left:910px;top:475.5px">45° Binocular Extender + Rotation Device,
meet your operational requirements as we
can.</div>
<div class="t" style="left:859px;top:554px">Handgrips</div>
<div class="b" style="left:855px;top:581px">360 ° rotatable, Could be pulled out and rotate to any
direction. Being convenient to use.
Handling softly, Ergonomic design based on the
shape of  the hands
Sterilize, The handgrips could be pulled out to be
sterilized, no need to be covered by sleeves in use.</div>
</body></html>
